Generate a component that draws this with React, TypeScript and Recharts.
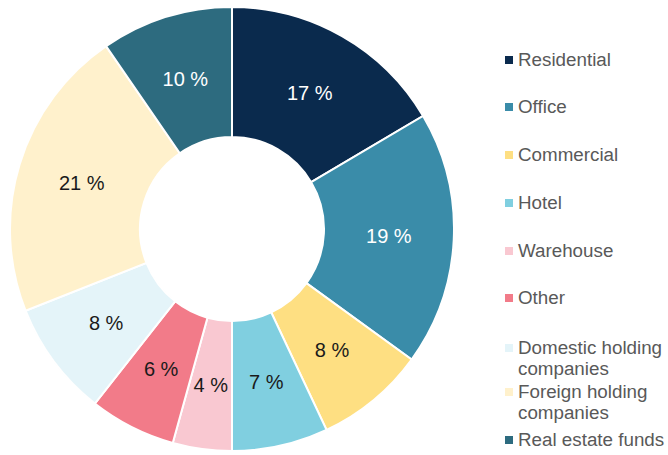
import { PieChart, Pie, Cell, Legend } from 'recharts'

const categories = [
  'Residential', 'Office', 'Commercial', 'Hotel', 'Warehouse', 'Other',
  'Domestic holding companies', 'Foreign holding companies', 'Real estate funds',
]
// shares in % (labels show them rounded)
const shares = [16.5, 18.5, 8.0, 7.0, 4.3, 6.3, 8.4, 21.4, 9.6]
const colors = ['#0a2a4d', '#3a8ca9', '#fedf82', '#80cfe0', '#f9c8d1', '#f27b89', '#e4f4f9', '#fff1cc', '#2d6b7f']
const darkSlices = ['Residential', 'Office', 'Real estate funds']

const data = categories.map((name, i) => ({ name, value: shares[i] }))

const RAD = Math.PI / 180
const FONT = '"Liberation Sans", Arial, sans-serif'

// label sits in the middle of the ring
function SliceLabel(props: any) {
  const { cx, cy, midAngle, innerRadius, outerRadius, value, name } = props
  const r = (innerRadius + outerRadius) / 2
  const x = cx + r * Math.cos(-midAngle * RAD)
  const y = cy + r * Math.sin(-midAngle * RAD)
  return (
    <text
      x={x}
      y={y}
      textAnchor="middle"
      dominantBaseline="central"
      fontSize={20}
      fontFamily={FONT}
      fill={darkSlices.includes(name) ? '#ffffff' : '#1a1a1a'}
    >
      {Math.round(value)} %
    </text>
  )
}

// legend rows: centre y of first text line, and wrapped lines
const legendRows = [
  { top: 60, lines: ['Residential'] },
  { top: 107, lines: ['Office'] },
  { top: 155, lines: ['Commercial'] },
  { top: 203, lines: ['Hotel'] },
  { top: 251, lines: ['Warehouse'] },
  { top: 298, lines: ['Other'] },
  { top: 348, lines: ['Domestic holding', 'companies'] },
  { top: 392, lines: ['Foreign holding', 'companies'] },
  { top: 440, lines: ['Real estate funds'] },
]

function LegendBox() {
  return (
    <div style={{ position: 'relative', width: 668, height: 455 }}>
      {legendRows.map((row, i) => (
        <div key={categories[i]}>
          <span
            style={{
              position: 'absolute', left: 505, top: row.top - 4,
              width: 8, height: 8, background: colors[i],
            }}
          />
          {row.lines.map((ln, j) => (
            <span
              key={j}
              style={{
                position: 'absolute', left: 518, top: row.top - 11 + j * 21,
                fontSize: 18.8, lineHeight: '22px', fontFamily: FONT,
                color: '#595959', whiteSpace: 'nowrap',
              }}
            >
              {ln}
            </span>
          ))}
        </div>
      ))}
    </div>
  )
}

export default function App() {
  return (
    <div style={{ position: 'absolute', left: 0, top: 0, background: '#fff' }}>
      <PieChart width={668} height={455} margin={{ top: 0, right: 0, bottom: 0, left: 0 }}>
        <Pie
          data={data}
          dataKey="value"
          nameKey="name"
          cx={232}
          cy={229}
          innerRadius={92}
          outerRadius={222}
          startAngle={90}
          endAngle={-270}
          stroke="#ffffff"
          strokeWidth={2}
          label={SliceLabel}
          labelLine={false}
          isAnimationActive={false}
        >
          {data.map((d, i) => (
            <Cell key={d.name} fill={colors[i]} />
          ))}
        </Pie>
        <Legend
          content={() => <LegendBox />}
          wrapperStyle={{ left: 0, top: 0, width: 668, height: 455 }}
        />
      </PieChart>
    </div>
  )
}
